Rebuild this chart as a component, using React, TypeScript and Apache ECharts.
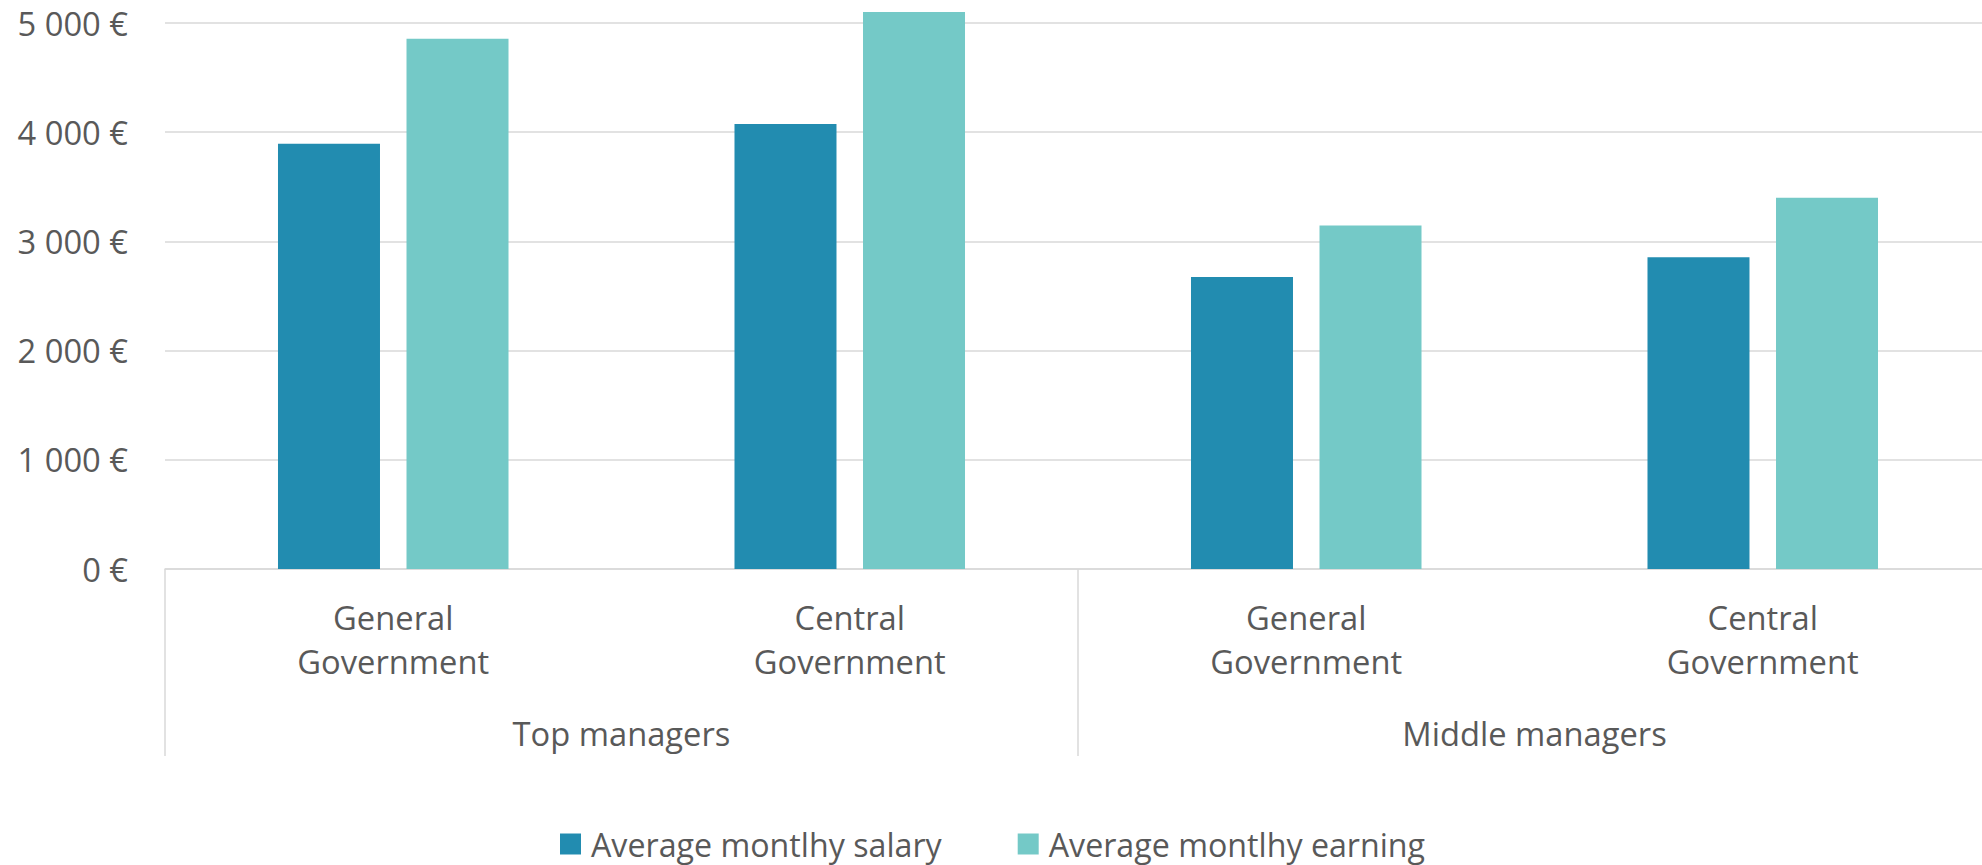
import React, { useEffect, useRef } from "react";
import * as echarts from "echarts";

const subCategories = [
  "General\nGovernment",
  "Central\nGovernment",
  "General\nGovernment",
  "Central\nGovernment",
];
const groupCategories = ["Top managers", "Middle managers"];
const salaryName = "Average montlhy salary";
const earningName = "Average montlhy earning";
const salaryValues = [3895, 4075, 2675, 2855];
const earningValues = [4855, 5100, 3145, 3400];
const yMin = 0;
const yMax = 5000;
const yStep = 1000;

const FONT = "'Open Sans', 'Noto Sans', sans-serif";
const FS = 32.7;
const TEXT = "#595959";
const GRID = "#D9D9D9";

function fmtEuro(v: number): string {
  return String(v).replace(/\B(?=(\d{3})+(?!\d))/g, " ") + " €";
}

export default function App() {
  const ref = useRef<HTMLDivElement>(null);
  useEffect(() => {
    if (!ref.current) return;
    const chart = echarts.init(ref.current, null, { renderer: "svg" });
    chart.setOption({
      animation: false,
      backgroundColor: "#ffffff",
      textStyle: { fontFamily: FONT },
      grid: { left: 165, right: 0, top: 23, bottom: 296, containLabel: false },
      legend: {
        data: [salaryName, earningName],
        left: 560,
        top: 828,
        padding: 0,
        icon: "rect",
        itemWidth: 21,
        itemHeight: 21,
        itemGap: 76,
        textStyle: {
          fontFamily: FONT,
          fontSize: 32.2,
          color: TEXT,
          lineHeight: 21,
          padding: [0, 0, 0, 5],
        },
      },
      xAxis: [
        {
          type: "category",
          data: subCategories,
          position: "bottom",
          axisLine: { show: true, lineStyle: { color: GRID, width: 1.5 } },
          axisTick: { show: false },
          axisLabel: {
            interval: 0,
            margin: 26,
            fontFamily: FONT,
            fontSize: FS,
            lineHeight: 44,
            color: TEXT,
          },
          splitLine: { show: false },
        },
        {
          type: "category",
          data: groupCategories,
          position: "bottom",
          offset: 0,
          axisLine: { show: false },
          axisTick: {
            show: true,
            interval: 0,
            length: 187,
            lineStyle: { color: GRID, width: 1.5 },
          },
          axisLabel: {
            interval: 0,
            margin: 142,
            fontFamily: FONT,
            fontSize: FS,
            lineHeight: 44,
            color: TEXT,
          },
          splitLine: { show: false },
        },
      ],
      yAxis: {
        type: "value",
        min: yMin,
        max: yMax,
        interval: yStep,
        axisLine: { show: false },
        axisTick: { show: false },
        axisLabel: {
          margin: 37,
          fontFamily: FONT,
          fontSize: FS,
          color: TEXT,
          formatter: (v: number) => fmtEuro(v),
        },
        splitLine: { show: true, lineStyle: { color: GRID, width: 1.5 } },
      },
      series: [
        {
          name: salaryName,
          type: "bar",
          xAxisIndex: 0,
          data: salaryValues,
          barWidth: 102,
          barGap: "26%",
          clip: false,
          itemStyle: { color: "#228CB0" },
        },
        {
          name: earningName,
          type: "bar",
          xAxisIndex: 0,
          data: earningValues,
          barWidth: 102,
          barGap: "26%",
          clip: false,
          itemStyle: { color: "#74C9C7" },
        },
      ],
    });
    return () => chart.dispose();
  }, []);
  return (
    <div
      style={{
        position: "absolute",
        left: 0,
        top: 0,
        width: 1982,
        height: 865,
        overflow: "hidden",
        background: "#ffffff",
      }}
    >
      <div ref={ref} style={{ width: 1991, height: 865 }} />
    </div>
  );
}
